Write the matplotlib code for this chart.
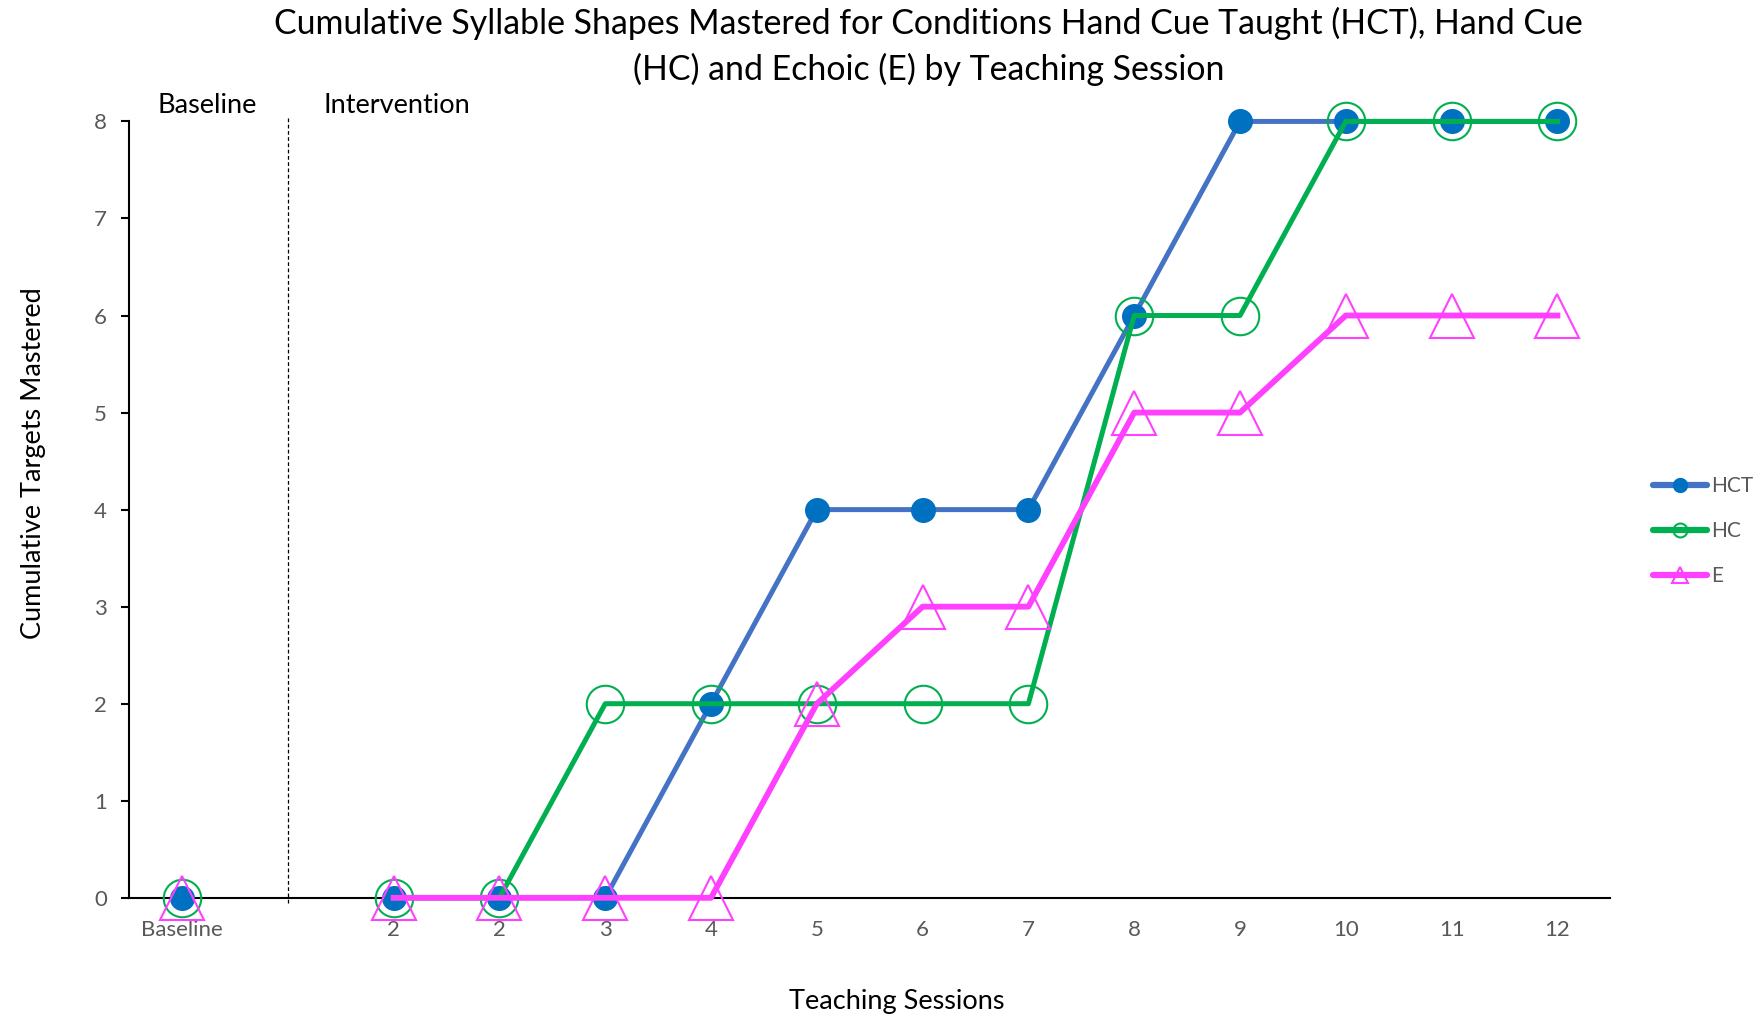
import numpy as np
import matplotlib.pyplot as plt
from matplotlib.lines import Line2D

plt.rcParams["font.family"] = ["Lato", "DejaVu Sans"]

# categories on the x axis (index 1 is an empty slot between baseline and intervention)
sessions = ["Baseline", "", "2", "2", "3", "4", "5", "6", "7", "8", "9", "10", "11", "12"]
hct = [0, np.nan, 0, 0, 0, 2, 4, 4, 4, 6, 8, 8, 8, 8]
hc = [0, np.nan, 0, 0, 2, 2, 2, 2, 2, 6, 6, 8, 8, 8]
e = [0, np.nan, 0, 0, 0, 0, 2, 3, 3, 5, 5, 6, 6, 6]
phase_labels = ["Baseline", "Intervention"]

x = np.arange(len(sessions))

fig = plt.figure(figsize=(17.62, 10.17), dpi=100)
ax = fig.add_axes([0.0733, 0.1172, 0.8406, 0.7634])

ax.plot(x, hct, color="#4472C4", lw=3.6, marker="o", ms=17,
        mfc="#0070C0", mec="#0070C0", zorder=3, clip_on=False)
ax.plot(x, hc, color="#00B050", lw=3.6, marker="o", ms=27,
        mfc="none", mec="#00B050", mew=1.5, zorder=4, clip_on=False)
ax.plot(x, e, color="#FF40FF", lw=4.2, marker="^", ms=31,
        mfc="none", mec="#FF40FF", mew=1.5, zorder=5, clip_on=False)

# phase change line
ax.plot([1, 1], [-0.05, 8.05], color="black", lw=0.9, ls=(0, (3, 2)),
        clip_on=False, zorder=2)

ax.set_xlim(-0.5, len(sessions) - 0.5)
ax.set_ylim(0, 8)
ax.set_xticks(x)
ax.set_xticklabels(sessions)
ax.set_yticks(range(0, 9))
ax.tick_params(axis="x", length=0, pad=16, labelsize=16, labelcolor="#595959")
ax.tick_params(axis="y", length=6, width=1.5, pad=10, labelsize=16,
               labelcolor="#595959", direction="out")
for s in ["top", "right"]:
    ax.spines[s].set_visible(False)
ax.spines["left"].set_linewidth(1.5)
ax.spines["bottom"].set_linewidth(1.5)

ax.set_xlabel("Teaching Sessions", fontsize=19.5)
ax.set_ylabel("Cumulative Targets Mastered", fontsize=19.5)
ax.xaxis.set_label_coords(0.518, -0.118)
ax.yaxis.set_label_coords(-0.056, 0.56)

ax.text(0.24, 8.04, phase_labels[0], ha="center", va="bottom", fontsize=19.5)
ax.text(2.03, 8.04, phase_labels[1], ha="center", va="bottom", fontsize=19.5)

fig.suptitle("Cumulative Syllable Shapes Mastered for Conditions Hand Cue Taught (HCT), Hand Cue\n"
             "(HC) and Echoic (E) by Teaching Session",
             x=0.527, y=0.993, fontsize=24.4, linespacing=1.45)

handles = [
    Line2D([], [], color="#4472C4", lw=4.5, marker="o", ms=10,
           mfc="#0070C0", mec="#0070C0", solid_capstyle="round"),
    Line2D([], [], color="#00B050", lw=4.5, marker="o", ms=10,
           mfc="none", mec="#00B050", mew=1.5, solid_capstyle="round"),
    Line2D([], [], color="#FF40FF", lw=4.5, marker="^", ms=12,
           mfc="none", mec="#FF40FF", mew=1.5, solid_capstyle="round"),
]
leg = ax.legend(handles, ["HCT", "HC", "E"], loc="center left",
                bbox_to_anchor=(1.016, 0.472), frameon=False,
                fontsize=15, handlelength=2.6, labelspacing=1.2, handletextpad=0.2)
for t in leg.get_texts():
    t.set_color("#595959")

fig.savefig("out.png", dpi=100)
